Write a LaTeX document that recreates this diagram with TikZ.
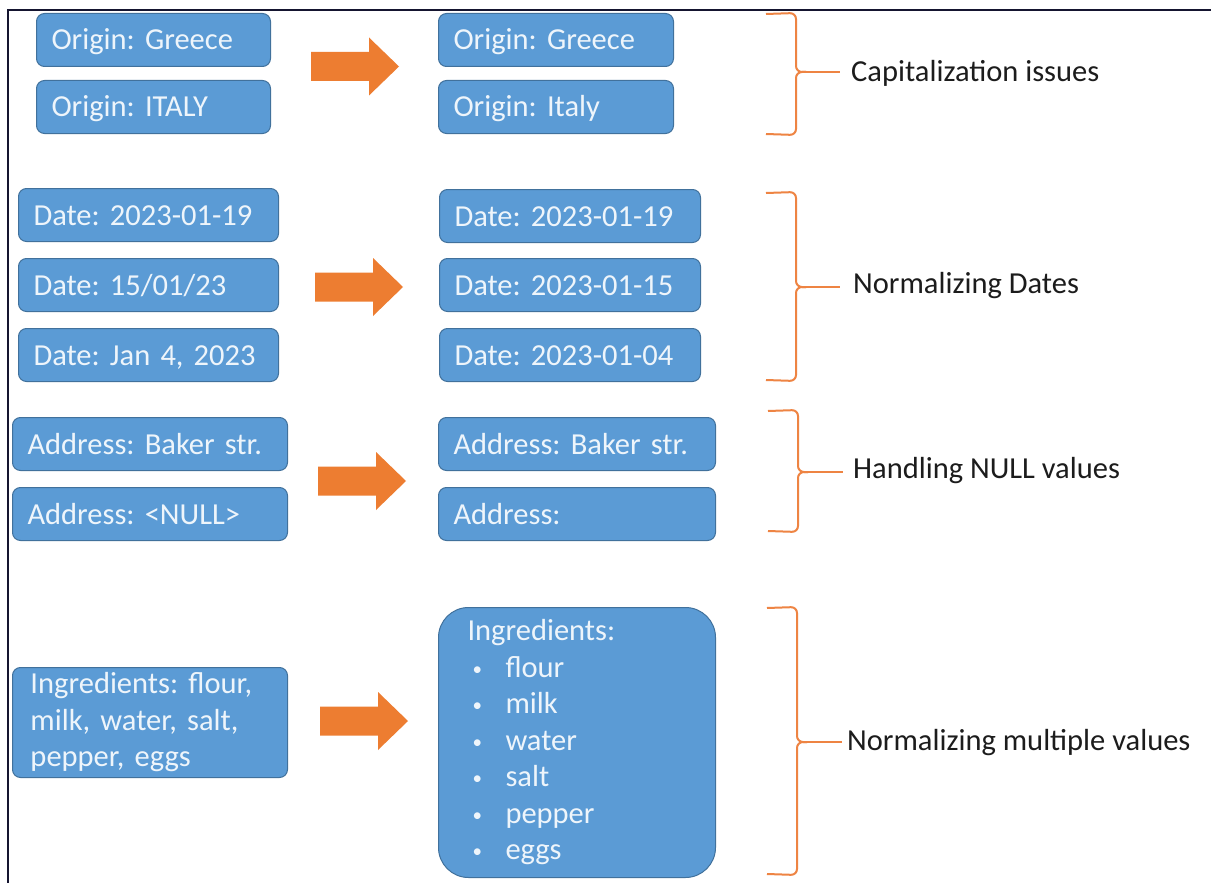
\documentclass[tikz,border=0pt]{standalone}
\usepackage{fontspec}
\setmainfont{Carlito}
\frenchspacing
\definecolor{boxfill}{HTML}{5B9BD5}
\definecolor{boxedge}{HTML}{41719C}
\definecolor{boxtext}{HTML}{EEF5FB}
\definecolor{arroworange}{HTML}{ED7D31}
\definecolor{bracecol}{HTML}{EE8443}
\definecolor{framecol}{HTML}{151530}
\definecolor{labeltext}{HTML}{1C1C1C}
% bullet with fixed indent for the list inside the large box
\newcommand\listbul{\makebox[38pt][l]{\hspace{5pt}\raisebox{2pt}{\fontsize{19}{19}\selectfont\textbullet}}}
% right-hand curly brace: vertical x, top y, middle y, bottom y, name of middle point
\newcommand\sidebrace[5]{%
  \draw[bracestyle] (#1-30,#2+1) -- (#1,#2) -- (#1,#3) -- (#1+10,#3);
  \draw[bracestyle] (#1-30,#4-1) -- (#1,#4) -- (#1,#3) -- (#1+10,#3);
  \coordinate (#5) at (#1+4,#3);
}
\begin{document}
\begin{tikzpicture}[x=1pt,y=-1pt,
  box/.style={draw=boxedge, fill=boxfill, line width=1pt, rounded corners=8pt,
    text=boxtext, font=\fontsize{30.5}{36.5}\selectfont, inner xsep=15pt,
    inner ysep=0pt, minimum height=53pt, align=left, anchor=north west},
  onebox/.style={box, text height=24pt, text depth=4pt},
  lab/.style={text=labeltext, font=\fontsize{30.5}{36.5}\selectfont,
    inner sep=0pt, anchor=west},
  bracestyle/.style={draw=bracecol, line width=2pt, rounded corners=6pt},
  tickline/.style={draw=bracecol, line width=2pt},
  blockarrow/.pic={\fill[arroworange] (0,-14.5) -- (58,-14.5) -- (58,-29)
    -- (88,0) -- (58,29) -- (58,14.5) -- (0,14.5) -- cycle;},
  framestyle/.style={draw=framecol, line width=2.5pt}]

\useasboundingbox (0,0) rectangle (1211,883);
\fill[white] (0,0) rectangle (1211,883);
\draw[framestyle] (8,883) -- (8,10) -- (1211,10);

% --- capitalization
\node[onebox, text width=204pt] (c1) at (36,13) {Origin: Greece};
\node[onebox, text width=204pt] (c2) at (36,80) {Origin: ITALY};
\node[onebox, text width=205pt] (c3) at (438,13) {Origin: Greece};
\node[onebox, text width=205pt] (c4) at (438,80) {Origin: Italy};
\pic at (311,66.5) {blockarrow};
\sidebrace{796}{13}{72}{135}{b1}
\coordinate (t1) at (840,72);
\node[lab] (l1) at (851,73) {Capitalization issues};
\draw[tickline] (b1) -- (t1);

% --- dates
\node[onebox, text width=230pt] (d1) at (18,188) {Date: 2023-01-19};
\node[onebox, text width=230pt] (d2) at (18,258) {Date: 15/01/23};
\node[onebox, text width=230pt] (d3) at (18,328) {Date: Jan 4, 2023};
\node[onebox, text width=231pt] (d4) at (439,189) {Date: 2023-01-19};
\node[onebox, text width=231pt] (d5) at (439,258) {Date: 2023-01-15};
\node[onebox, text width=231pt] (d6) at (439,328) {Date: 2023-01-04};
\pic at (315,287) {blockarrow};
\sidebrace{796}{192}{287}{381}{b2}
\coordinate (t2) at (840,287);
\node[lab] (l2) at (853,286) {Normalizing Dates};
\draw[tickline] (b2) -- (t2);

% --- null values
\node[onebox, text width=245pt] (n1) at (12,417) {Address: Baker str.};
\node[onebox, text width=245pt] (n2) at (12,487) {Address: <NULL>};
\node[onebox, text width=247pt] (n3) at (438,417) {Address: Baker str.};
\node[onebox, text width=247pt] (n4) at (438,487) {Address:};
\pic at (318,481) {blockarrow};
\sidebrace{798}{410}{472}{532}{b3}
\coordinate (t3) at (843,472);
\node[lab] (l3) at (853,471) {Handling NULL values};
\draw[tickline] (b3) -- (t3);

% --- multiple values
\node[box, text width=239pt, inner xsep=18pt, minimum height=110pt] (m1) at (12,667)
  {Ingredients: flour,\\milk, water, salt,\\pepper, eggs};
\node[box, text width=219pt, inner xsep=29pt, minimum height=270pt,
  rounded corners=30pt] (m2) at (438,607)
  {Ingredients:\\\listbul flour\\\listbul milk\\\listbul water\\\listbul salt\\\listbul pepper\\\listbul eggs};
\pic at (320,721) {blockarrow};
\sidebrace{797}{607}{742}{875}{b4}
\coordinate (t4) at (842,742);
\node[lab] (l4) at (847,743) {Normalizing multiple values};
\draw[tickline] (b4) -- (t4);
\end{tikzpicture}
\end{document}
